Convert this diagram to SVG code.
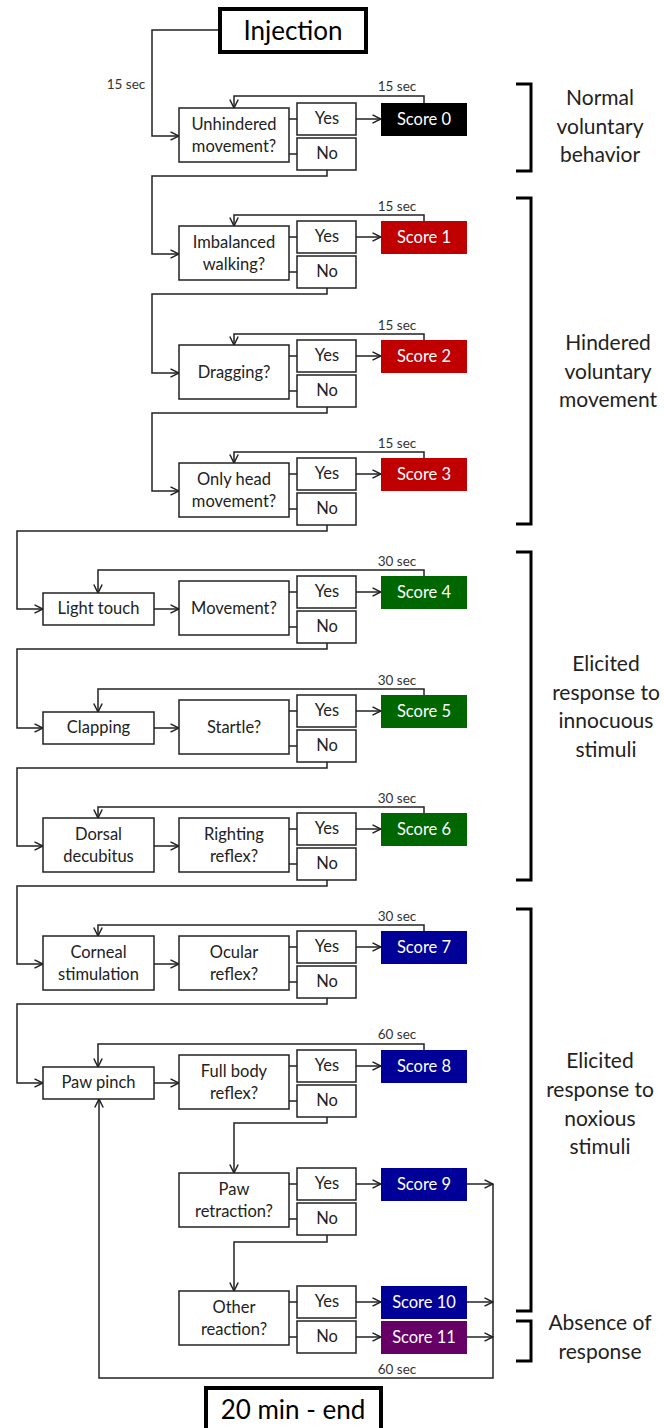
<svg xmlns="http://www.w3.org/2000/svg" width="664" height="1428" viewBox="0 0 664 1428">
<defs>
<marker id="arr" viewBox="0 0 10 10" refX="9.5" refY="5" markerWidth="10" markerHeight="10" markerUnits="userSpaceOnUse" orient="auto">
<path d="M1,0.8 L9.5,5 L1,9.2" fill="none" stroke="#222" stroke-width="1.5"/>
</marker>
<style>
text{font-family:Lato,"Liberation Sans",sans-serif;fill:#222;text-anchor:middle}
.box{fill:#fff;stroke:#222;stroke-width:1.5}
.big{fill:#fff;stroke:#000;stroke-width:4}
.t{font-size:16.5px}
.tb{font-size:26px;fill:#000}
.s{font-size:16.5px;fill:#fff}
.sec{font-size:13.5px;fill:#333}
.br{fill:none;stroke:#000;stroke-width:3}
.cat{font-size:21px;fill:#222}
.c{fill:none;stroke:#222;stroke-width:1.5}
.ca{fill:none;stroke:#222;stroke-width:1.5;marker-end:url(#arr)}
.k{fill:#000}.r{fill:#c00000}.g{fill:#006600}.b{fill:#000099}.p{fill:#660066}
</style>
</defs>

<g id="connectors">
<path class="ca" d="M220,30 H152 V136 H179"/>
<path class="ca" d="M327,170 V176 H152 V254 H179"/>
<path class="ca" d="M327,288 V294 H152 V373 H179"/>
<path class="ca" d="M327,407 V413 H152 V491 H179"/>
<path class="ca" d="M327,525 V531 H17 V609 H43"/>
<path class="ca" d="M327,643 V649 H17 V728 H43"/>
<path class="ca" d="M327,762 V768 H17 V846 H43"/>
<path class="ca" d="M327,880 V886 H17 V964 H43"/>
<path class="ca" d="M327,998 V1004 H17 V1083 H43"/>
<path class="ca" d="M327,1117 V1123 H234 V1173"/>
<path class="ca" d="M327,1235 V1242 H234 V1291"/>
<path class="ca" d="M424,103 V96 H234 V108"/>
<path class="ca" d="M424,221 V215 H234 V226"/>
<path class="ca" d="M424,340 V334 H234 V345"/>
<path class="ca" d="M424,458 V452 H234 V463"/>
<path class="ca" d="M424,576 V570 H98 V593"/>
<path class="ca" d="M424,695 V689 H98 V712"/>
<path class="ca" d="M424,813 V807 H98 V818"/>
<path class="ca" d="M424,931 V925 H98 V936"/>
<path class="ca" d="M424,1050 V1044 H98 V1067"/>
<path class="ca" d="M154,609 H179"/>
<path class="ca" d="M154,728 H179"/>
<path class="ca" d="M154,846 H179"/>
<path class="ca" d="M154,964 H179"/>
<path class="ca" d="M154,1083 H179"/>
<path class="ca" d="M356,119 H381"/>
<path class="ca" d="M356,237 H381"/>
<path class="ca" d="M356,356 H381"/>
<path class="ca" d="M356,474 H381"/>
<path class="ca" d="M356,592 H381"/>
<path class="ca" d="M356,711 H381"/>
<path class="ca" d="M356,829 H381"/>
<path class="ca" d="M356,947 H381"/>
<path class="ca" d="M356,1066 H381"/>
<path class="ca" d="M356,1184 H381"/>
<path class="ca" d="M356,1302 H381"/>
<path class="ca" d="M356,1337 H381"/>
<path class="c" d="M289,119 H297 M289,154 H297 M289,237 H297 M289,272 H297 M289,356 H297 M289,391 H297 M289,474 H297 M289,509 H297 M289,592 H297 M289,627 H297 M289,711 H297 M289,746 H297 M289,829 H297 M289,864 H297 M289,947 H297 M289,982 H297 M289,1066 H297 M289,1101 H297 M289,1184 H297 M289,1219 H297 M289,1302 H297 M289,1337 H297"/>
<path class="ca" d="M467,1184 H493"/>
<path class="ca" d="M467,1302 H493"/>
<path class="ca" d="M467,1337 H493"/>
<path class="ca" d="M493,1184 V1378 H99 V1099"/>
<text class="sec" x="126" y="89">15 sec</text>
<text class="sec" x="397" y="91">15 sec</text>
<text class="sec" x="397" y="211">15 sec</text>
<text class="sec" x="397" y="330">15 sec</text>
<text class="sec" x="397" y="448">15 sec</text>
<text class="sec" x="397" y="566">30 sec</text>
<text class="sec" x="397" y="685">30 sec</text>
<text class="sec" x="397" y="803">30 sec</text>
<text class="sec" x="397" y="921">30 sec</text>
<text class="sec" x="397" y="1039">60 sec</text>
<text class="sec" x="397" y="1374">60 sec</text>
</g>

<g id="injection"><rect class="big" x="220" y="9" width="146" height="43"/><text class="tb" x="293" y="40">Injection</text></g>
<g id="end"><rect class="big" x="206" y="1388" width="175" height="46"/><text class="tb" x="293" y="1419">20 min - end</text></g>

<g id="q0"><rect class="box" x="179" y="108" width="110" height="54"/><text class="t" x="234" y="130">Unhindered</text><text class="t" x="234" y="152">movement?</text></g>
<g id="q1"><rect class="box" x="179" y="226" width="110" height="54"/><text class="t" x="234" y="248">Imbalanced</text><text class="t" x="234" y="270">walking?</text></g>
<g id="q2"><rect class="box" x="179" y="345" width="110" height="54"/><text class="t" x="234" y="378">Dragging?</text></g>
<g id="q3"><rect class="box" x="179" y="463" width="110" height="54"/><text class="t" x="234" y="485">Only head</text><text class="t" x="234" y="507">movement?</text></g>
<g id="q4"><rect class="box" x="179" y="581" width="110" height="54"/><text class="t" x="234" y="614">Movement?</text></g>
<g id="q5"><rect class="box" x="179" y="700" width="110" height="54"/><text class="t" x="234" y="733">Startle?</text></g>
<g id="q6"><rect class="box" x="179" y="818" width="110" height="54"/><text class="t" x="234" y="840">Righting</text><text class="t" x="234" y="862">reflex?</text></g>
<g id="q7"><rect class="box" x="179" y="936" width="110" height="54"/><text class="t" x="234" y="958">Ocular</text><text class="t" x="234" y="980">reflex?</text></g>
<g id="q8"><rect class="box" x="179" y="1055" width="110" height="54"/><text class="t" x="234" y="1077">Full body</text><text class="t" x="234" y="1099">reflex?</text></g>
<g id="q9"><rect class="box" x="179" y="1173" width="110" height="54"/><text class="t" x="234" y="1195">Paw</text><text class="t" x="234" y="1217">retraction?</text></g>
<g id="q10"><rect class="box" x="179" y="1291" width="110" height="54"/><text class="t" x="234" y="1313">Other</text><text class="t" x="234" y="1335">reaction?</text></g>

<g id="st4"><rect class="box" x="43" y="593" width="111" height="32"/><text class="t" x="98.5" y="614">Light touch</text></g>
<g id="st5"><rect class="box" x="43" y="712" width="111" height="32"/><text class="t" x="98.5" y="733">Clapping</text></g>
<g id="st6"><rect class="box" x="43" y="818" width="111" height="54"/><text class="t" x="98.5" y="840">Dorsal</text><text class="t" x="98.5" y="862">decubitus</text></g>
<g id="st7"><rect class="box" x="43" y="936" width="111" height="54"/><text class="t" x="98.5" y="958">Corneal</text><text class="t" x="98.5" y="980">stimulation</text></g>
<g id="st8"><rect class="box" x="43" y="1067" width="111" height="32"/><text class="t" x="98.5" y="1088">Paw pinch</text></g>

<g id="yes0"><rect class="box" x="297" y="103" width="59" height="32"/><text class="t" x="327" y="124">Yes</text></g>
<g id="no0"><rect class="box" x="297" y="138" width="59" height="32"/><text class="t" x="327" y="159">No</text></g>
<g id="yes1"><rect class="box" x="297" y="221" width="59" height="32"/><text class="t" x="327" y="242">Yes</text></g>
<g id="no1"><rect class="box" x="297" y="256" width="59" height="32"/><text class="t" x="327" y="277">No</text></g>
<g id="yes2"><rect class="box" x="297" y="340" width="59" height="32"/><text class="t" x="327" y="361">Yes</text></g>
<g id="no2"><rect class="box" x="297" y="375" width="59" height="32"/><text class="t" x="327" y="396">No</text></g>
<g id="yes3"><rect class="box" x="297" y="458" width="59" height="32"/><text class="t" x="327" y="479">Yes</text></g>
<g id="no3"><rect class="box" x="297" y="493" width="59" height="32"/><text class="t" x="327" y="514">No</text></g>
<g id="yes4"><rect class="box" x="297" y="576" width="59" height="32"/><text class="t" x="327" y="597">Yes</text></g>
<g id="no4"><rect class="box" x="297" y="611" width="59" height="32"/><text class="t" x="327" y="632">No</text></g>
<g id="yes5"><rect class="box" x="297" y="695" width="59" height="32"/><text class="t" x="327" y="716">Yes</text></g>
<g id="no5"><rect class="box" x="297" y="730" width="59" height="32"/><text class="t" x="327" y="751">No</text></g>
<g id="yes6"><rect class="box" x="297" y="813" width="59" height="32"/><text class="t" x="327" y="834">Yes</text></g>
<g id="no6"><rect class="box" x="297" y="848" width="59" height="32"/><text class="t" x="327" y="869">No</text></g>
<g id="yes7"><rect class="box" x="297" y="931" width="59" height="32"/><text class="t" x="327" y="952">Yes</text></g>
<g id="no7"><rect class="box" x="297" y="966" width="59" height="32"/><text class="t" x="327" y="987">No</text></g>
<g id="yes8"><rect class="box" x="297" y="1050" width="59" height="32"/><text class="t" x="327" y="1071">Yes</text></g>
<g id="no8"><rect class="box" x="297" y="1085" width="59" height="32"/><text class="t" x="327" y="1106">No</text></g>
<g id="yes9"><rect class="box" x="297" y="1168" width="59" height="32"/><text class="t" x="327" y="1189">Yes</text></g>
<g id="no9"><rect class="box" x="297" y="1203" width="59" height="32"/><text class="t" x="327" y="1224">No</text></g>
<g id="yes10"><rect class="box" x="297" y="1286" width="59" height="32"/><text class="t" x="327" y="1307">Yes</text></g>
<g id="no10"><rect class="box" x="297" y="1321" width="59" height="32"/><text class="t" x="327" y="1342">No</text></g>

<g id="score0"><rect class="k" x="381" y="103" width="86" height="33"/><text class="s" x="424" y="125">Score 0</text></g>
<g id="score1"><rect class="r" x="381" y="221" width="86" height="33"/><text class="s" x="424" y="243">Score 1</text></g>
<g id="score2"><rect class="r" x="381" y="340" width="86" height="33"/><text class="s" x="424" y="362">Score 2</text></g>
<g id="score3"><rect class="r" x="381" y="458" width="86" height="33"/><text class="s" x="424" y="480">Score 3</text></g>
<g id="score4"><rect class="g" x="381" y="576" width="86" height="33"/><text class="s" x="424" y="598">Score 4</text></g>
<g id="score5"><rect class="g" x="381" y="695" width="86" height="33"/><text class="s" x="424" y="717">Score 5</text></g>
<g id="score6"><rect class="g" x="381" y="813" width="86" height="33"/><text class="s" x="424" y="835">Score 6</text></g>
<g id="score7"><rect class="b" x="381" y="931" width="86" height="33"/><text class="s" x="424" y="953">Score 7</text></g>
<g id="score8"><rect class="b" x="381" y="1050" width="86" height="33"/><text class="s" x="424" y="1072">Score 8</text></g>
<g id="score9"><rect class="b" x="381" y="1168" width="86" height="33"/><text class="s" x="424" y="1190">Score 9</text></g>
<g id="score10"><rect class="b" x="381" y="1286" width="86" height="33"/><text class="s" x="424" y="1308">Score 10</text></g>
<g id="score11"><rect class="p" x="381" y="1321" width="86" height="33"/><text class="s" x="424" y="1343">Score 11</text></g>

<g id="cat-normal"><path class="br" d="M516,84 H531 V171 H516"/><text class="cat" x="600" y="105">Normal</text><text class="cat" x="600" y="134">voluntary</text><text class="cat" x="600" y="162">behavior</text></g>
<g id="cat-hindered"><path class="br" d="M516,198 H531 V524 H516"/><text class="cat" x="608" y="350">Hindered</text><text class="cat" x="608" y="379">voluntary</text><text class="cat" x="608" y="407">movement</text></g>
<g id="cat-innocuous"><path class="br" d="M516,552 H531 V880 H516"/><text class="cat" x="606" y="671">Elicited</text><text class="cat" x="606" y="700">response to</text><text class="cat" x="606" y="728">innocuous</text><text class="cat" x="606" y="757">stimuli</text></g>
<g id="cat-noxious"><path class="br" d="M516,909 H531 V1311 H516"/><text class="cat" x="600" y="1068">Elicited</text><text class="cat" x="600" y="1097">response to</text><text class="cat" x="600" y="1126">noxious</text><text class="cat" x="600" y="1154">stimuli</text></g>
<g id="cat-absence"><path class="br" d="M516,1321 H531 V1361 H516"/><text class="cat" x="600" y="1330">Absence of</text><text class="cat" x="600" y="1359">response</text></g>
</svg>
